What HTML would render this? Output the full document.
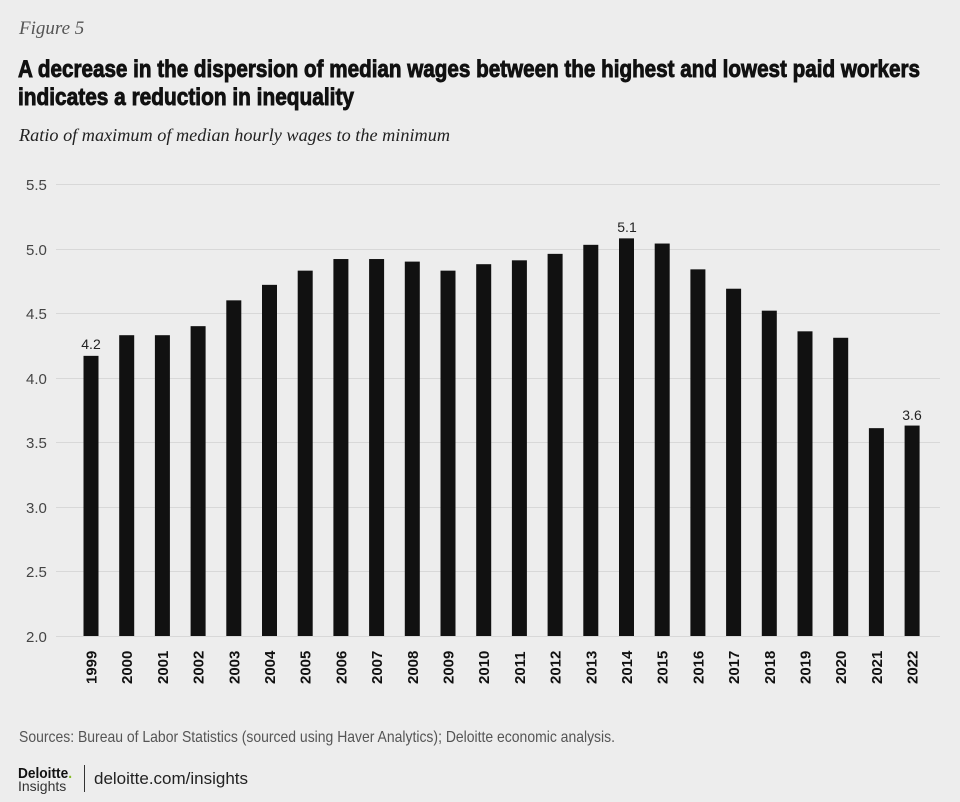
<!DOCTYPE html>
<html><head><meta charset="utf-8"><style>
html,body{margin:0;padding:0;background:#ededed;}
svg{display:block}
</style></head><body>
<svg width="960" height="802" xmlns="http://www.w3.org/2000/svg">
<rect width="960" height="802" fill="#ededed"/>
<text x="19" y="34" font-family="Liberation Serif, serif" font-style="italic" font-size="19" fill="#555">Figure 5</text>
<text x="18" y="77" font-family="'Liberation Sans Narrow','Liberation Sans',sans-serif" font-weight="bold" font-size="24" fill="#111" stroke="#111" stroke-width="0.9" textLength="902" lengthAdjust="spacingAndGlyphs">A decrease in the dispersion of median wages between the highest and lowest paid workers</text>
<text x="18" y="105" font-family="'Liberation Sans Narrow','Liberation Sans',sans-serif" font-weight="bold" font-size="24" fill="#111" stroke="#111" stroke-width="0.9" textLength="336" lengthAdjust="spacingAndGlyphs">indicates a reduction in inequality</text>
<text x="19" y="141" font-family="Liberation Serif, serif" font-style="italic" font-size="18" fill="#222" textLength="431" lengthAdjust="spacingAndGlyphs">Ratio of maximum of median hourly wages to the minimum</text>
<g font-family="'Liberation Sans Narrow','Liberation Sans',sans-serif" font-size="15" fill="#444">
<g stroke="#d8d8d8" stroke-width="1">
<line x1="56" x2="940" y1="184.5" y2="184.5"/>
<line x1="56" x2="940" y1="249.5" y2="249.5"/>
<line x1="56" x2="940" y1="313.5" y2="313.5"/>
<line x1="56" x2="940" y1="378.5" y2="378.5"/>
<line x1="56" x2="940" y1="442.5" y2="442.5"/>
<line x1="56" x2="940" y1="507.5" y2="507.5"/>
<line x1="56" x2="940" y1="571.5" y2="571.5"/>
<line x1="56" x2="940" y1="636.5" y2="636.5"/>
</g>
<text x="26" y="190">5.5</text><text x="26" y="255">5.0</text><text x="26" y="319">4.5</text><text x="26" y="384">4.0</text><text x="26" y="448">3.5</text><text x="26" y="513">3.0</text><text x="26" y="577">2.5</text><text x="26" y="642">2.0</text>
</g>
<g id="bars" fill="#111"></g>
<g id="labels" font-family="'Liberation Sans Narrow','Liberation Sans',sans-serif" font-weight="bold" font-size="15" fill="#111"></g>
<g font-family="'Liberation Sans Narrow','Liberation Sans',sans-serif" font-size="14" fill="#222" text-anchor="middle">
<text x="91" y="349">4.2</text><text x="627" y="232">5.1</text><text x="912" y="420">3.6</text>
</g>
<text x="19" y="742" font-family="'Liberation Sans Narrow','Liberation Sans',sans-serif" font-size="16" fill="#555" textLength="596" lengthAdjust="spacingAndGlyphs">Sources: Bureau of Labor Statistics (sourced using Haver Analytics); Deloitte economic analysis.</text>
<text x="18" y="778" font-family="Liberation Sans, sans-serif" font-weight="bold" font-size="15" fill="#111" textLength="54" lengthAdjust="spacingAndGlyphs">Deloitte<tspan fill="#86bc25">.</tspan></text>
<text x="18" y="791" font-family="'Liberation Sans Narrow','Liberation Sans',sans-serif" font-size="14" fill="#333">Insights</text>
<line x1="84.5" x2="84.5" y1="765" y2="792" stroke="#333" stroke-width="1"/>
<text x="94" y="784" font-family="'Liberation Sans Narrow','Liberation Sans',sans-serif" font-size="17" fill="#222">deloitte.com/insights</text>
</svg>
<script>
var v=[4.17,4.33,4.33,4.40,4.60,4.72,4.83,4.92,4.92,4.90,4.83,4.88,4.91,4.96,5.03,5.08,5.04,4.84,4.69,4.52,4.36,4.31,3.61,3.63];
var b=document.getElementById('bars'),l=document.getElementById('labels'),ns='http://www.w3.org/2000/svg';
for(var i=0;i<v.length;i++){var cx=91+i*35.7;var y=636-(v[i]-2)*129.1;
var r=document.createElementNS(ns,'rect');r.setAttribute('x',cx-7.5);r.setAttribute('y',y);r.setAttribute('width',15);r.setAttribute('height',636-y);b.appendChild(r);
var t=document.createElementNS(ns,'text');t.setAttribute('transform','translate('+(cx+5.5)+',684) rotate(-90)');t.textContent=1999+i;l.appendChild(t);}
</script>
</body></html>
